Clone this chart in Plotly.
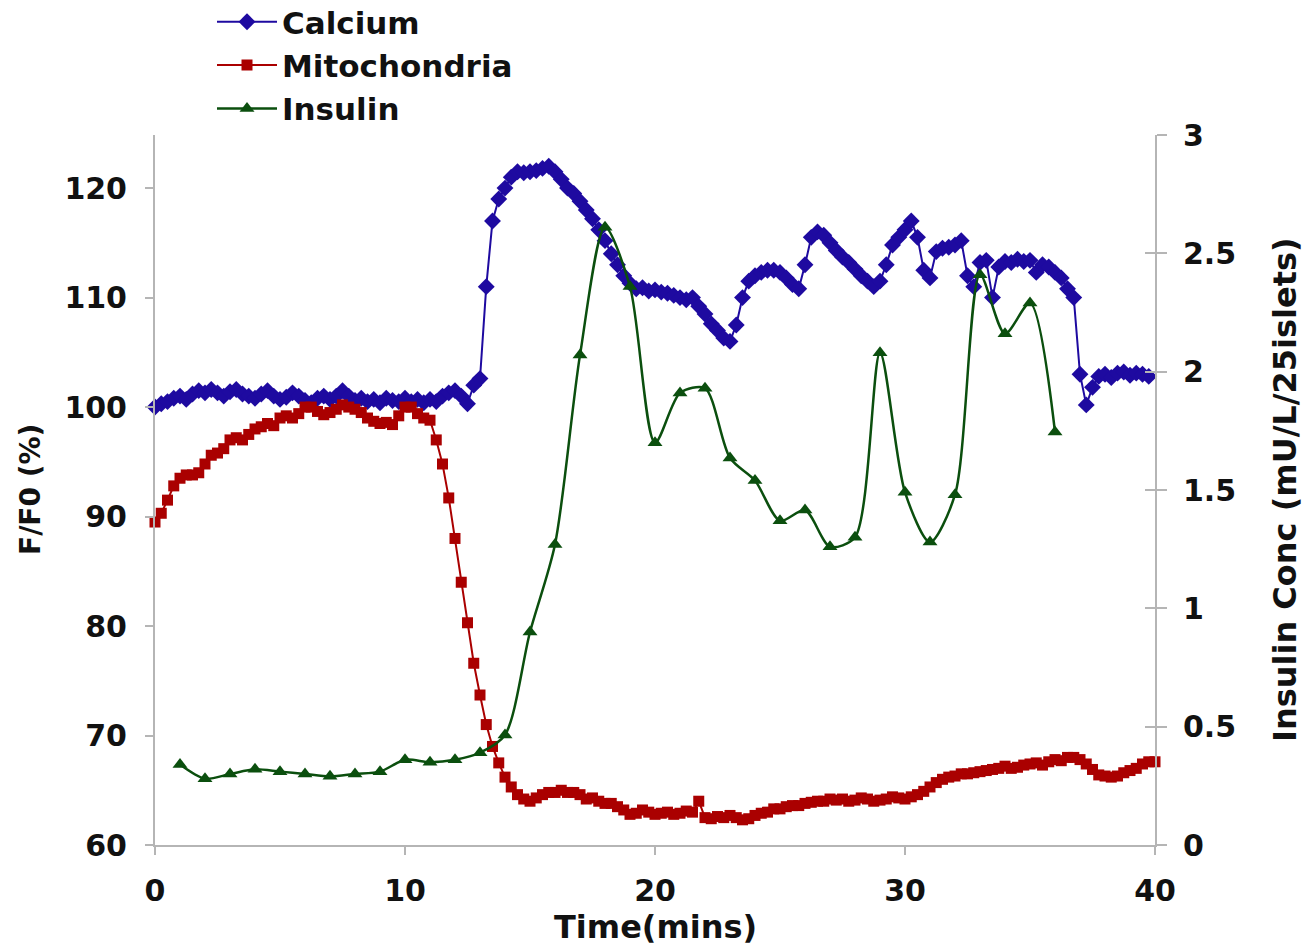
import plotly.graph_objects as go

# ---- data ----
calcium_t = [i * 0.25 for i in range(160)]
calcium = [
    100.0, 100.3, 100.5, 100.8, 101.0, 100.7, 101.2, 101.5, 101.3, 101.6,
    101.3, 101.0, 101.4, 101.6, 101.2, 101.0, 100.8, 101.2, 101.5, 101.0,
    100.7, 100.9, 101.3, 101.0, 100.6, 100.4, 100.8, 101.0, 100.7, 101.0,
    101.5, 101.0, 100.6, 100.8, 100.5, 100.7, 100.4, 100.8, 100.6, 100.5,
    100.8, 100.5, 100.7, 100.4, 100.7, 100.5, 101.0, 101.3, 101.5, 101.0,
    100.3, 102.0, 102.6, 111.0, 117.0, 119.0, 120.0, 121.0, 121.5, 121.4,
    121.5, 121.6, 121.8, 122.0, 121.5, 120.8, 120.0, 119.5, 118.8, 118.0,
    117.2, 116.2, 115.2, 114.0, 113.0, 112.0, 111.3, 110.8, 110.9, 110.6,
    110.7, 110.5, 110.4, 110.2, 110.0, 109.8, 110.0, 109.2, 108.5, 107.6,
    107.0, 106.3, 106.0, 107.5, 110.0, 111.5, 112.0, 112.3, 112.5, 112.5,
    112.3, 111.8, 111.2, 110.8, 113.0, 115.5, 116.0, 115.7, 115.0, 114.3,
    113.7, 113.2, 112.6, 112.0, 111.5, 111.0, 111.5, 113.0, 114.8, 115.5,
    116.2, 117.0, 115.5, 112.5, 111.8, 114.2, 114.5, 114.6, 114.8, 115.2,
    112.0, 111.0, 113.2, 113.4, 110.0, 112.8, 113.3, 113.2, 113.5, 113.3,
    113.4, 112.3, 113.0, 112.8, 112.3, 111.8, 110.8, 110.0, 103.0, 100.2,
    101.8, 102.8, 103.0, 102.7, 103.1, 103.2, 102.9, 103.1, 103.0, 102.8,
]

mito_t = [i * 0.25 for i in range(161)]
mitochondria = [
    89.5, 90.3, 91.5, 92.8, 93.5, 93.8, 93.8, 94.0, 94.8, 95.6,
    95.8, 96.2, 97.0, 97.2, 97.0, 97.5, 98.0, 98.2, 98.5, 98.3,
    99.0, 99.2, 99.0, 99.4, 100.0, 100.0, 99.6, 99.3, 99.5, 99.8,
    100.2, 100.0, 99.8, 99.5, 99.0, 98.7, 98.5, 98.6, 98.4, 99.2,
    100.0, 100.0, 99.4, 99.0, 98.8, 97.0, 94.8, 91.7, 88.0, 84.0,
    80.3, 76.6, 73.7, 71.0, 69.0, 67.5, 66.2, 65.3, 64.6, 64.2,
    64.0, 64.3, 64.6, 64.8, 64.8, 65.0, 64.8, 64.8, 64.6, 64.2,
    64.3, 64.0, 63.8, 63.8, 63.5, 63.2, 62.8, 62.9, 63.2, 63.0,
    62.8, 62.9, 63.0, 62.8, 62.9, 63.1, 63.0, 64.0, 62.5, 62.4,
    62.6, 62.5, 62.7, 62.5, 62.3, 62.4, 62.7, 62.9, 63.0, 63.3,
    63.3, 63.5, 63.6, 63.6, 63.8, 63.9, 64.0, 64.0, 64.2, 64.1,
    64.2, 64.0, 64.1, 64.3, 64.2, 64.0, 64.1, 64.2, 64.4, 64.3,
    64.2, 64.4, 64.6, 64.9, 65.3, 65.7, 66.0, 66.2, 66.3, 66.5,
    66.5, 66.6, 66.7, 66.8, 66.9, 67.0, 67.2, 67.0, 67.1, 67.3,
    67.4, 67.5, 67.3, 67.6, 67.8, 67.7, 68.0, 68.0, 67.8, 67.4,
    66.9, 66.4, 66.3, 66.2, 66.3, 66.6, 66.8, 67.0, 67.4, 67.6,
    67.6,
]

insulin_t = list(range(1, 37))
insulin = [
    0.34, 0.28, 0.30, 0.32, 0.31, 0.30, 0.29, 0.30, 0.31, 0.36,
    0.35, 0.36, 0.39, 0.465, 0.90, 1.27, 2.07, 2.61, 2.36, 1.70,
    1.91, 1.93, 1.635, 1.54, 1.37, 1.415, 1.26, 1.30, 2.08, 1.49,
    1.28, 1.48, 2.41, 2.16, 2.29, 1.745,
]

x_ticks = [0, 10, 20, 30, 40]
left_ticks = [60, 70, 80, 90, 100, 110, 120]
right_ticks = [0, 0.5, 1, 1.5, 2, 2.5, 3]
right_tick_text = ["0", "0.5", "1", "1.5", "2", "2.5", "3"]

BLUE = "#1e0aa0"
RED = "#aa0000"
GREEN = "#0b4f0e"
AXIS = "#b5b5b5"
FONT = "DejaVu Sans"
INK = "#111111"

fig = go.Figure()
fig.add_trace(go.Scatter(
    x=calcium_t, y=calcium, name="Calcium", mode="lines+markers",
    line=dict(color=BLUE, width=2),
    marker=dict(symbol="diamond", size=13, color=BLUE),
    cliponaxis=False,
))
fig.add_trace(go.Scatter(
    x=mito_t, y=mitochondria, name="Mitochondria", mode="lines+markers",
    line=dict(color=RED, width=2),
    marker=dict(symbol="square", size=11, color=RED),
    cliponaxis=False,
))
fig.add_trace(go.Scatter(
    x=insulin_t, y=insulin, name="Insulin", mode="lines+markers",
    yaxis="y2",
    line=dict(color=GREEN, width=2.5, shape="spline", smoothing=0.8),
    marker=dict(symbol="triangle-up", size=13, color=GREEN),
    cliponaxis=False,
))
# helper so the inner half of the right-axis cross ticks is drawn
fig.add_trace(go.Scatter(x=[], y=[], yaxis="y3", showlegend=False, hoverinfo="skip"))

tickfont = dict(family=FONT, size=30, color=INK, weight="bold")

fig.update_layout(
    width=1310, height=947,
    margin=dict(l=155, r=155, t=135, b=102, autoexpand=False),
    paper_bgcolor="white", plot_bgcolor="white",
    showlegend=True,
    legend=dict(
        x=0.057, y=1.197, xanchor="left", yanchor="top",
        font=dict(family=FONT, size=31, color=INK, weight="bold"),
        bgcolor="rgba(0,0,0,0)", itemwidth=60, tracegroupgap=0,
    ),
    xaxis=dict(
        range=[0, 40], tickvals=x_ticks, ticktext=[str(v) for v in x_ticks],
        showgrid=False, zeroline=False, showline=True, linecolor=AXIS, linewidth=2,
        ticks="outside", ticklen=8, tickcolor=AXIS, tickwidth=2,
        tickfont=tickfont, ticklabelstandoff=10, automargin=False,
    ),
    yaxis=dict(
        range=[60, 124.85], tickvals=left_ticks, ticktext=[str(v) for v in left_ticks],
        showgrid=False, zeroline=False, showline=True, linecolor=AXIS, linewidth=2,
        ticks="outside", ticklen=8, tickcolor=AXIS, tickwidth=2,
        tickfont=tickfont, ticklabelstandoff=12, automargin=False,
    ),
    yaxis2=dict(
        range=[0, 3], tickvals=right_ticks, ticktext=right_tick_text,
        overlaying="y", side="right", anchor="x",
        showgrid=False, zeroline=False, showline=True, linecolor=AXIS, linewidth=2,
        ticks="outside", ticklen=10, tickcolor=AXIS, tickwidth=2,
        tickfont=tickfont, ticklabelstandoff=10, automargin=False,
    ),
    yaxis3=dict(
        range=[0, 3], tickvals=right_ticks, overlaying="y", side="right", anchor="x",
        showgrid=False, zeroline=False, showline=False, showticklabels=False,
        ticks="inside", ticklen=10, tickcolor=AXIS, tickwidth=2,
    ),
    annotations=[
        dict(text="Time(mins)", xref="paper", yref="paper", x=0.5, y=-0.115,
             xanchor="center", yanchor="middle", showarrow=False,
             font=dict(family=FONT, size=32, color=INK, weight="bold")),
        dict(text="F/F0 (%)", xref="paper", yref="paper", x=-0.125, y=0.5,
             xanchor="center", yanchor="middle", showarrow=False, textangle=-90,
             font=dict(family=FONT, size=28, color=INK, weight="bold")),
        dict(text="Insulin Conc (mU/L/25islets)", xref="paper", yref="paper", x=1.13, y=0.5,
             xanchor="center", yanchor="middle", showarrow=False, textangle=-90,
             font=dict(family=FONT, size=32, color=INK, weight="bold")),
    ],
)

fig.write_html("out.html", config={"displayModeBar": False},
               post_script="document.body.style.margin='0';")
